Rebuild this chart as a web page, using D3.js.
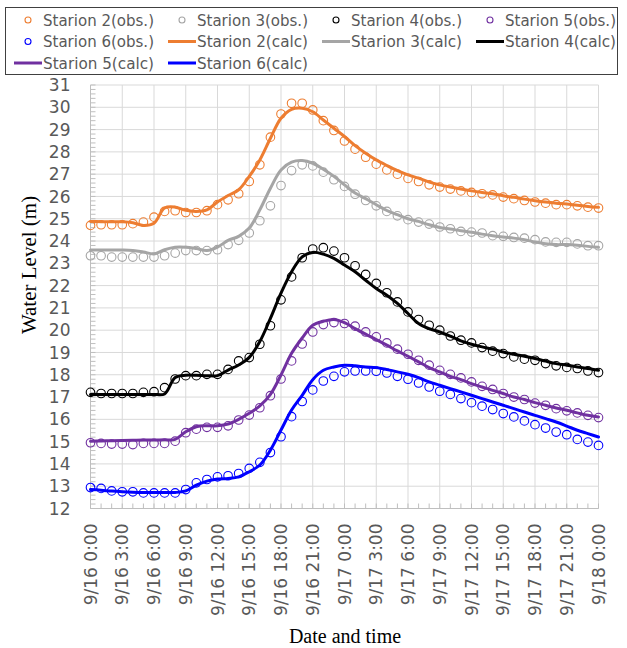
<!DOCTYPE html>
<html>
<head>
<meta charset="utf-8">
<script src="https://cdnjs.cloudflare.com/ajax/libs/d3/7.8.5/d3.min.js"></script>
<style>
  body { margin: 0; background: #fff; }
  svg { display: block; }
</style>
</head>
<body>
<svg id="chart" width="627" height="648"></svg>
<script>
// hours since 9/16 0:00, one observation per hour
const hours = d3.range(0, 49);
const tickHours = d3.range(0, 49, 3);
const tickLabels = ["9/16 0:00", "9/16 3:00", "9/16 6:00", "9/16 9:00", "9/16 12:00", "9/16 15:00",
  "9/16 18:00", "9/16 21:00", "9/17 0:00", "9/17 3:00", "9/17 6:00", "9/17 9:00", "9/17 12:00",
  "9/17 15:00", "9/17 18:00", "9/17 21:00", "9/18 0:00"];

const obs2 = [24.70, 24.73, 24.73, 24.73, 24.78, 24.85, 25.07, 25.33, 25.36, 25.28, 25.28, 25.36, 25.63, 25.85, 26.12, 26.67, 27.42, 28.66, 29.70, 30.18, 30.18,
  29.88, 29.40, 28.96, 28.49, 28.12, 27.76, 27.45, 27.19, 27.00, 26.81, 26.67, 26.52, 26.42, 26.33, 26.25, 26.18, 26.12, 26.07, 25.97, 25.90, 25.82, 25.75, 25.70, 25.63, 25.63, 25.58, 25.52, 25.48];
const obs3 = [23.34, 23.34, 23.28, 23.28, 23.28, 23.28, 23.28, 23.34, 23.46, 23.57, 23.57, 23.57, 23.61, 23.84, 24.03, 24.36, 24.91, 25.58, 26.49, 27.16, 27.42,
  27.37, 27.09, 26.75, 26.45, 26.10, 25.82, 25.58, 25.33, 25.13, 24.96, 24.85, 24.76, 24.63, 24.55, 24.43, 24.40, 24.36, 24.24, 24.21, 24.16, 24.13, 24.06, 23.96, 23.94, 23.94, 23.87, 23.79, 23.79];
const obs4 = [17.21, 17.16, 17.16, 17.16, 17.16, 17.21, 17.24, 17.42, 17.81, 17.96, 17.96, 18.02, 18.02, 18.24, 18.62, 18.77, 19.37, 20.20, 21.36, 22.39, 23.25,
  23.64, 23.70, 23.55, 23.25, 22.89, 22.50, 22.10, 21.68, 21.27, 20.82, 20.48, 20.22, 20.00, 19.74, 19.55, 19.43, 19.22, 19.06, 18.95, 18.80, 18.70, 18.65, 18.50, 18.40, 18.33, 18.28, 18.17, 18.10];
const obs5 = [14.95, 14.92, 14.89, 14.89, 14.87, 14.92, 14.92, 14.92, 15.02, 15.40, 15.56, 15.64, 15.64, 15.71, 15.97, 16.19, 16.52, 17.06, 17.81, 18.62, 19.38,
  19.92, 20.25, 20.34, 20.30, 20.18, 19.92, 19.70, 19.43, 19.15, 18.92, 18.65, 18.43, 18.20, 18.02, 17.86, 17.68, 17.48, 17.34, 17.16, 17.00, 16.89, 16.73, 16.63, 16.48, 16.38, 16.29, 16.18, 16.08];
const obs6 = [12.94, 12.90, 12.79, 12.75, 12.75, 12.70, 12.70, 12.70, 12.70, 12.85, 13.15, 13.30, 13.42, 13.47, 13.57, 13.80, 14.07, 14.51, 15.22, 16.12, 16.80,
  17.32, 17.72, 17.93, 18.13, 18.17, 18.17, 18.16, 18.08, 17.93, 17.80, 17.63, 17.45, 17.26, 17.12, 16.93, 16.75, 16.59, 16.44, 16.26, 16.11, 15.93, 15.76, 15.61, 15.43, 15.31, 15.10, 14.98, 14.83];

const calc2 = [24.88, 24.87, 24.86, 24.86, 24.82, 24.70, 24.80, 25.48, 25.52, 25.38, 25.33, 25.40, 25.75, 26.04, 26.30, 26.90, 27.64, 28.61, 29.51, 29.91, 29.96,
  29.80, 29.43, 29.06, 28.69, 28.28, 27.94, 27.64, 27.39, 27.16, 26.97, 26.82, 26.64, 26.52, 26.42, 26.33, 26.25, 26.18, 26.12, 26.03, 25.96, 25.88, 25.81, 25.75, 25.70, 25.66, 25.60, 25.55, 25.51];
const calc3 = [23.60, 23.60, 23.60, 23.60, 23.58, 23.51, 23.42, 23.61, 23.72, 23.72, 23.66, 23.58, 23.73, 24.03, 24.21, 24.58, 25.40, 26.37, 27.19, 27.54, 27.61,
  27.49, 27.22, 26.90, 26.52, 26.15, 25.90, 25.63, 25.37, 25.18, 25.00, 24.88, 24.73, 24.61, 24.54, 24.46, 24.39, 24.31, 24.24, 24.18, 24.13, 24.06, 23.96, 23.88, 23.84, 23.84, 23.81, 23.76, 23.72];
const calc4 = [17.12, 17.12, 17.12, 17.12, 17.12, 17.12, 17.12, 17.14, 17.88, 17.98, 17.98, 17.96, 17.96, 18.21, 18.44, 18.78, 19.49, 20.53, 21.66, 22.62, 23.29,
  23.49, 23.41, 23.22, 22.92, 22.62, 22.24, 21.87, 21.57, 21.20, 20.75, 20.30, 20.07, 19.92, 19.73, 19.52, 19.37, 19.25, 19.15, 19.02, 18.92, 18.83, 18.73, 18.61, 18.50, 18.43, 18.35, 18.28, 18.20];
const calc5 = [15.02, 15.03, 15.04, 15.05, 15.06, 15.07, 15.07, 15.08, 15.10, 15.44, 15.67, 15.71, 15.71, 15.79, 16.00, 16.27, 16.60, 17.12, 17.99, 18.96, 19.65,
  20.22, 20.40, 20.48, 20.34, 20.07, 19.82, 19.58, 19.33, 19.07, 18.83, 18.58, 18.32, 18.13, 17.93, 17.78, 17.60, 17.45, 17.30, 17.16, 17.00, 16.89, 16.75, 16.63, 16.51, 16.41, 16.29, 16.18, 16.11];
const calc6 = [12.85, 12.82, 12.78, 12.75, 12.73, 12.72, 12.72, 12.72, 12.72, 12.79, 13.05, 13.23, 13.32, 13.35, 13.42, 13.65, 13.95, 14.62, 15.52, 16.42, 17.08,
  17.78, 18.20, 18.35, 18.43, 18.40, 18.35, 18.32, 18.23, 18.13, 18.02, 17.87, 17.68, 17.53, 17.38, 17.23, 17.08, 16.93, 16.78, 16.63, 16.48, 16.33, 16.18, 16.03, 15.88, 15.70, 15.51, 15.36, 15.21];

const stations = ["Starion 2", "Starion 3", "Starion 4", "Starion 5", "Starion 6"];
const colors = ["#ED7D31", "#A5A5A5", "#000000", "#7030A0", "#0000FF"];
const obsSeries = [obs2, obs3, obs4, obs5, obs6];
const calcSeries = [calc2, calc3, calc4, calc5, calc6];

const svg = d3.select("#chart");
const margin = { top: 85, right: 28.5, bottom: 139.5, left: 90.5 };
const width = 627 - margin.left - margin.right;
const height = 648 - margin.top - margin.bottom;

const x = d3.scaleLinear().domain([0, 48]).range([0, width]);
const y = d3.scaleLinear().domain([12, 31]).range([height, 0]);

const g = svg.append("g").attr("transform", `translate(${margin.left},${margin.top})`);

// grid
g.append("g").selectAll("line").data(d3.range(12, 32)).join("line")
  .attr("x1", 0).attr("x2", width)
  .attr("y1", d => y(d)).attr("y2", d => y(d))
  .attr("stroke", "#D9D9D9").attr("stroke-width", 1);
g.append("g").selectAll("line").data(tickHours).join("line")
  .attr("x1", d => x(d)).attr("x2", d => x(d))
  .attr("y1", 0).attr("y2", height)
  .attr("stroke", "#D9D9D9").attr("stroke-width", 1);

// minor ticks (inside)
g.append("g").selectAll("line").data(d3.range(12, 31.01, 0.2)).join("line")
  .attr("x1", 0).attr("x2", 5)
  .attr("y1", d => y(d)).attr("y2", d => y(d))
  .attr("stroke", "#BFBFBF");
g.append("g").selectAll("line").data(hours).join("line")
  .attr("x1", d => x(d)).attr("x2", d => x(d))
  .attr("y1", height).attr("y2", height - 5)
  .attr("stroke", "#BFBFBF");

// axis lines
g.append("line").attr("x1", 0).attr("x2", 0).attr("y1", 0).attr("y2", height).attr("stroke", "#BFBFBF");
g.append("line").attr("x1", 0).attr("x2", width).attr("y1", height).attr("y2", height).attr("stroke", "#BFBFBF");

// y tick labels
g.append("g").selectAll("text").data(d3.range(12, 32)).join("text")
  .attr("x", -20).attr("y", d => y(d)).attr("dy", "0.36em")
  .attr("text-anchor", "end")
  .style("font-family", "DejaVu Sans, sans-serif").style("font-size", "17px")
  .attr("fill", "#595959")
  .text(d => d);

// x tick labels, rotated
g.append("g").selectAll("text").data(tickHours).join("text")
  .attr("transform", d => `translate(${x(d)},${height + 15}) rotate(-90)`)
  .attr("dy", "0.36em")
  .attr("text-anchor", "end")
  .style("font-family", "DejaVu Sans, sans-serif").style("font-size", "17px")
  .attr("fill", "#595959")
  .text((d, i) => tickLabels[i]);

// observations first, then calculated lines on top
obsSeries.forEach((s, k) => {
  g.append("g").selectAll("circle").data(s).join("circle")
    .attr("cx", (d, i) => x(hours[i])).attr("cy", d => y(d))
    .attr("r", 4.3)
    .attr("fill", "none").attr("stroke", colors[k]).attr("stroke-width", 1.1);
});

const line = d3.line()
  .x((d, i) => x(hours[i]))
  .y(d => y(d))
  .curve(d3.curveCatmullRom.alpha(0.5));

calcSeries.forEach((s, k) => {
  g.append("path").datum(s)
    .attr("d", line)
    .attr("fill", "none").attr("stroke", colors[k]).attr("stroke-width", 3)
    .attr("stroke-linejoin", "round").attr("stroke-linecap", "round");
});

// axis titles
svg.append("text")
  .attr("transform", "translate(36,265) rotate(-90)")
  .attr("text-anchor", "middle")
  .style("font-family", "Liberation Serif, Times New Roman, serif").style("font-size", "21px")
  .attr("fill", "#000")
  .text("Water Level (m)");
svg.append("text")
  .attr("x", 345).attr("y", 643)
  .attr("text-anchor", "middle")
  .style("font-family", "Liberation Serif, Times New Roman, serif").style("font-size", "20px")
  .attr("fill", "#000")
  .text("Date and time");

// legend
const legendItems = [];
stations.forEach((s, k) => legendItems.push({ label: s + "(obs.)", color: colors[k], type: "obs" }));
stations.forEach((s, k) => legendItems.push({ label: s + "(calc)", color: colors[k], type: "calc" }));

const legend = svg.append("g");
legend.append("rect")
  .attr("x", 5.5).attr("y", 7.5).attr("width", 612).attr("height", 67)
  .attr("fill", "#fff").attr("stroke", "#404040").attr("stroke-width", 1);

const colW = 154, rowH = 21.5;
const item = legend.selectAll(".legend-element").data(legendItems).join("g")
  .attr("class", "legend-element")
  .attr("transform", (d, i) => `translate(${28 + (i % 4) * colW},${20 + Math.floor(i / 4) * rowH})`);

item.filter(d => d.type === "obs").append("circle")
  .attr("r", 3).attr("fill", "none").attr("stroke", d => d.color).attr("stroke-width", 1.1);
item.filter(d => d.type === "calc").append("line")
  .attr("x1", -14).attr("x2", 14)
  .attr("stroke", d => d.color).attr("stroke-width", 3);
item.append("text")
  .attr("x", 15).attr("dy", "0.36em")
  .style("font-family", "DejaVu Sans, sans-serif").style("font-size", "16px")
  .attr("fill", "#595959")
  .attr("textLength", 111).attr("lengthAdjust", "spacingAndGlyphs")
  .text(d => d.label);
</script>
</body>
</html>
